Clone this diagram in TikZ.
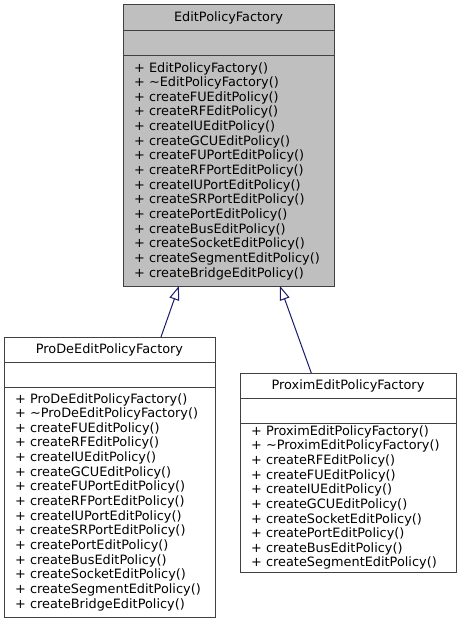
\documentclass[tikz,border=0pt]{standalone}
\usepackage{fontspec}
\setmainfont{DejaVu Sans}
\usetikzlibrary{positioning,calc,arrows.meta}
\definecolor{classfill}{RGB}{191,191,191}
\definecolor{classline}{RGB}{64,64,64}
\definecolor{inherit}{RGB}{25,25,112}
\tikzset{
  classbox/.style={draw=classline, line width=0.75pt, inner sep=0pt, outer sep=0pt,
    font=\fontsize{9.65}{10.98}\selectfont},
  classhead/.style={classbox, minimum width=#1, minimum height=18.75pt},
  classops/.style={classbox, text width=#1, inner xsep=8.25pt, align=left},
  inheritline/.style={draw=inherit, line width=0.75pt,
    -{Triangle[open,length=10.5pt,width=7.5pt]}}
}
\begin{document}
\begin{tikzpicture}[x=0.75pt,y=-0.75pt]
  \useasboundingbox (0,0) rectangle (461,624);
  \node[classhead=158.25pt, fill=classfill, minimum height=19.5pt, anchor=north west] (basehead) at (123,5) {EditPolicyFactory};
  \node[classhead=158.25pt, fill=classfill, below=0pt of basehead] (baseattr) {};
  \node[classops=141.75pt, fill=classfill, minimum height=172.5pt, below=0pt of baseattr] (baseops)
    {+ EditPolicyFactory()\\
     + \textasciitilde EditPolicyFactory()\\
     + createFUEditPolicy()\\
     + createRFEditPolicy()\\
     + createIUEditPolicy()\\
     + createGCUEditPolicy()\\
     + createFUPortEditPolicy()\\
     + createRFPortEditPolicy()\\
     + createIUPortEditPolicy()\\
     + createSRPortEditPolicy()\\
     + createPortEditPolicy()\\
     + createBusEditPolicy()\\
     + createSocketEditPolicy()\\
     + createSegmentEditPolicy()\\
     + createBridgeEditPolicy()};

  \node[classhead=158.25pt, fill=white, anchor=north west] (prodehead) at (4,337) {ProDeEditPolicyFactory};
  \node[classhead=158.25pt, fill=white, below=0pt of prodehead] (prodeattr) {};
  \node[classops=141.75pt, fill=white, minimum height=172.5pt, below=0pt of prodeattr] (prodeops)
    {+ ProDeEditPolicyFactory()\\
     + \textasciitilde ProDeEditPolicyFactory()\\
     + createFUEditPolicy()\\
     + createRFEditPolicy()\\
     + createIUEditPolicy()\\
     + createGCUEditPolicy()\\
     + createFUPortEditPolicy()\\
     + createRFPortEditPolicy()\\
     + createIUPortEditPolicy()\\
     + createSRPortEditPolicy()\\
     + createPortEditPolicy()\\
     + createBusEditPolicy()\\
     + createSocketEditPolicy()\\
     + createSegmentEditPolicy()\\
     + createBridgeEditPolicy()};

  \node[classhead=162pt, fill=white, anchor=north west] (proximhead) at (240,373) {ProximEditPolicyFactory};
  \node[classhead=162pt, fill=white, below=0pt of proximhead] (proximattr) {};
  \node[classops=145.5pt, fill=white, minimum height=111.75pt, below=0pt of proximattr] (proximops)
    {+ ProximEditPolicyFactory()\\
     + \textasciitilde ProximEditPolicyFactory()\\
     + createRFEditPolicy()\\
     + createFUEditPolicy()\\
     + createIUEditPolicy()\\
     + createGCUEditPolicy()\\
     + createSocketEditPolicy()\\
     + createPortEditPolicy()\\
     + createBusEditPolicy()\\
     + createSegmentEditPolicy()};

  \draw[inheritline] ($(prodehead.north west)!0.744!(prodehead.north east)$)
    -- ($(baseops.south west)!0.265!(baseops.south east)$);
  \draw[inheritline] ($(proximhead.north west)!0.33!(proximhead.north east)$)
    -- ($(baseops.south west)!0.744!(baseops.south east)$);
\end{tikzpicture}
\end{document}
